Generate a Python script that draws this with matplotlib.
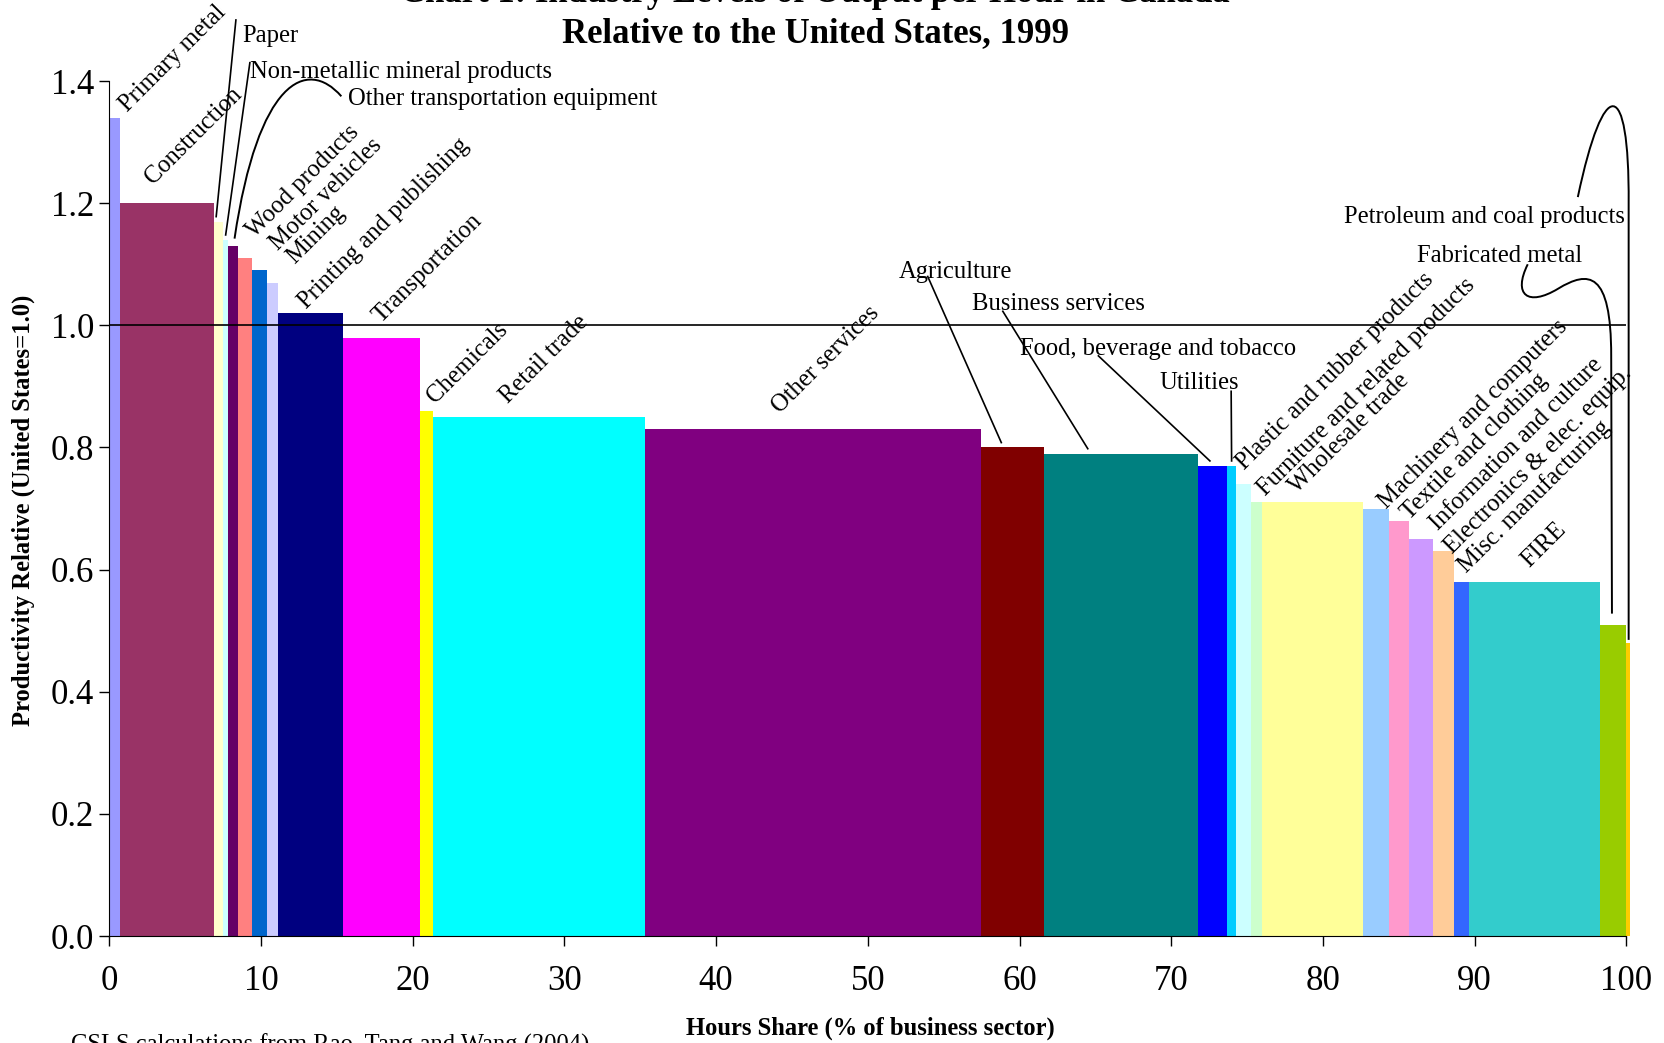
import numpy as np
import matplotlib
matplotlib.use("Agg")
import matplotlib.pyplot as plt
from matplotlib.path import Path
from matplotlib.patches import PathPatch

plt.rcParams['font.family'] = ['Liberation Serif', 'DejaVu Serif']

# industries, in the order they appear along the x axis
industries = [
    "Primary metal", "Construction", "Paper", "Non-metallic mineral products",
    "Other transportation equipment", "Wood products", "Motor vehicles", "Mining",
    "Printing and publishing", "Transportation", "Chemicals", "Retail trade",
    "Other services", "Agriculture", "Business services",
    "Food, beverage and tobacco", "Utilities", "Plastic and rubber products",
    "Furniture and related products", "Wholesale trade", "Machinery and computers",
    "Textile and clothing", "Information and culture", "Electronics & elec. equip.",
    "Misc. manufacturing", "FIRE", "Fabricated metal", "Petroleum and coal products",
]
# hours share (% of business sector)
hours_share = [0.70, 6.20, 0.62, 0.31, 0.66, 0.92, 0.99, 0.72, 4.28, 5.08, 0.86, 13.97,
               22.15, 4.16, 10.15, 1.92, 0.58, 0.98, 0.72, 6.68, 1.70, 1.32, 1.59, 1.38,
               0.98, 8.63, 1.73, 0.27]
# productivity relative to the US (US = 1.0)
productivity = [1.34, 1.20, 1.17, 1.14, 1.13, 1.11, 1.09, 1.07, 1.02, 0.98, 0.86, 0.85,
                0.83, 0.80, 0.79, 0.77, 0.77, 0.74, 0.71, 0.71, 0.70, 0.68, 0.65, 0.63,
                0.58, 0.58, 0.51, 0.48]

colors = ["#9999FF", "#993366", "#FFFFCC", "#CCFFFF", "#660066", "#FF8080", "#0066CC",
          "#CCCCFF", "#000080", "#FF00FF", "#FFFF00", "#00FFFF", "#800080", "#800000",
          "#008080", "#0000FF", "#00CCFF", "#CCFFFF", "#CCFFCC", "#FFFF99", "#99CCFF",
          "#FF99CC", "#CC99FF", "#FFCC99", "#3366FF", "#33CCCC", "#99CC00", "#FFCC00"]

widths = np.array(hours_share)
lefts = np.concatenate([[0], np.cumsum(widths)[:-1]])
heights = np.array(productivity)
centers = lefts + widths / 2

fig = plt.figure(figsize=(16.65, 10.43), dpi=100)
ax = fig.add_axes([0.0656, 0.1025, 0.9112, 0.8198])

ax.bar(lefts, heights, width=widths, align='edge', color=colors, linewidth=0, clip_on=False)
ax.axhline(1.0, color='black', linewidth=1.2)

ax.set_xlim(0, 100)
ax.set_ylim(0, 1.4)
ax.set_xticks(range(0, 101, 10))
ax.set_yticks(np.arange(0, 1.41, 0.2))
ax.set_yticklabels([f"{v:.1f}" for v in np.arange(0, 1.41, 0.2)])
ax.tick_params(axis='both', direction='out', length=7, width=1, labelsize=25)
ax.tick_params(axis='x', pad=13.5)
ax.tick_params(axis='y', pad=4)
for s in ['top', 'right']:
    ax.spines[s].set_visible(False)

lab_fs = 17.7
idx = {name: i for i, name in enumerate(industries)}

# rotated labels (start of text, data coords)
rotated = {
    "Primary metal": (0.7, 1.348),
    "Construction": (2.4, 1.229),
    "Wood products": (9.1, 1.142),
    "Motor vehicles": (10.6, 1.121),
    "Mining": (11.7, 1.099),
    "Printing and publishing": (12.5, 1.026),
    "Transportation": (17.4, 1.003),
    "Chemicals": (21.0, 0.872),
    "Retail trade": (25.8, 0.872),
    "Other services": (43.7, 0.855),
    "Plastic and rubber products": (74.3, 0.763),
    "Furniture and related products": (75.7, 0.719),
    "Wholesale trade": (77.8, 0.724),
    "Machinery and computers": (83.7, 0.698),
    "Textile and clothing": (85.2, 0.681),
    "Information and culture": (87.1, 0.663),
    "Electronics & elec. equip.": (88.05, 0.625),
    "Misc. manufacturing": (88.95, 0.594),
    "FIRE": (93.1, 0.602),
}
for name, (x, y) in rotated.items():
    ax.text(x + 0.5, y, name, rotation=45, rotation_mode='anchor', ha='left', va='baseline',
            fontsize=lab_fs, clip_on=False)

# horizontal labels with leader lines: (text pos, line start, line end x)
horiz = {
    "Paper": ((8.74, 1.478), (8.35, 1.50), 7.05),
    "Non-metallic mineral products": ((9.30, 1.419), (9.27, 1.43), None),
    "Agriculture": ((52.05, 1.092), (53.95, 1.080), 58.8),
    "Business services": ((56.9, 1.039), (58.9, 1.023), 64.5),
    "Food, beverage and tobacco": ((60.0, 0.965), (65.2, 0.950), 72.55),
    "Utilities": ((69.2, 0.910), (73.95, 0.892), None),
    "Other transportation equipment": ((15.73, 1.374), None, None),
    "Petroleum and coal products": ((81.4, 1.181), None, None),
    "Fabricated metal": ((86.2, 1.118), None, None),
}
for name, (tpos, start, endx) in horiz.items():
    ax.text(tpos[0], tpos[1] - 0.004, name, ha='left', va='center', fontsize=lab_fs,
            clip_on=False)
    if start is not None:
        i = idx[name]
        ex = centers[i] if endx is None else endx
        ey = heights[i] + 0.008
        ax.plot([start[0], ex], [start[1], ey], color='black', lw=1.2, clip_on=False)

# curved leaders
def curve(verts, codes):
    p = PathPatch(Path(verts, codes), facecolor='none', edgecolor='black', lw=1.4,
                  clip_on=False)
    ax.add_patch(p)

i = idx["Other transportation equipment"]
curve([(15.3, 1.375), (13.0, 1.44), (9.8, 1.40), (centers[i] + 0.1, heights[i] + 0.012)],
      [Path.MOVETO, Path.CURVE4, Path.CURVE4, Path.CURVE4])

i = idx["Petroleum and coal products"]
curve([(96.8, 1.21), (98.5, 1.41), (100.2, 1.41), (100.15, 1.2), (100.15, heights[i] + 0.005)],
      [Path.MOVETO, Path.CURVE4, Path.CURVE4, Path.CURVE4, Path.LINETO])

i = idx["Fabricated metal"]
curve([(93.5, 1.10), (92.5, 1.05), (93.5, 1.03), (95.5, 1.06),
       (97.5, 1.09), (99.0, 1.09), (99.0, 0.95), (99.05, heights[i] + 0.018)],
      [Path.MOVETO, Path.CURVE4, Path.CURVE4, Path.CURVE4,
       Path.CURVE4, Path.CURVE4, Path.CURVE4, Path.LINETO])

fig.text(0.4895, 1.0058, "Chart 1: Industry Levels of Output per Hour in Canada",
         ha='center', va='center', fontsize=25, fontweight='bold')
fig.text(0.4895, 0.9674, "Relative to the United States, 1999",
         ha='center', va='center', fontsize=25, fontweight='bold')
fig.text(23.4 / 1665, 1 - 510 / 1043, "Productivity Relative (United States=1.0)",
         rotation=90, ha='center', va='center', fontsize=17.7, fontweight='bold')
fig.text(870 / 1665, 1 - 1028 / 1043, "Hours Share (% of business sector)",
         ha='center', va='center', fontsize=17.7, fontweight='bold')
fig.text(71 / 1665, 1 - 1034 / 1043, "CSLS calculations from Rao, Tang and Wang (2004)",
         ha='left', va='top', fontsize=17.7)

fig.savefig("out.png", dpi=100)
